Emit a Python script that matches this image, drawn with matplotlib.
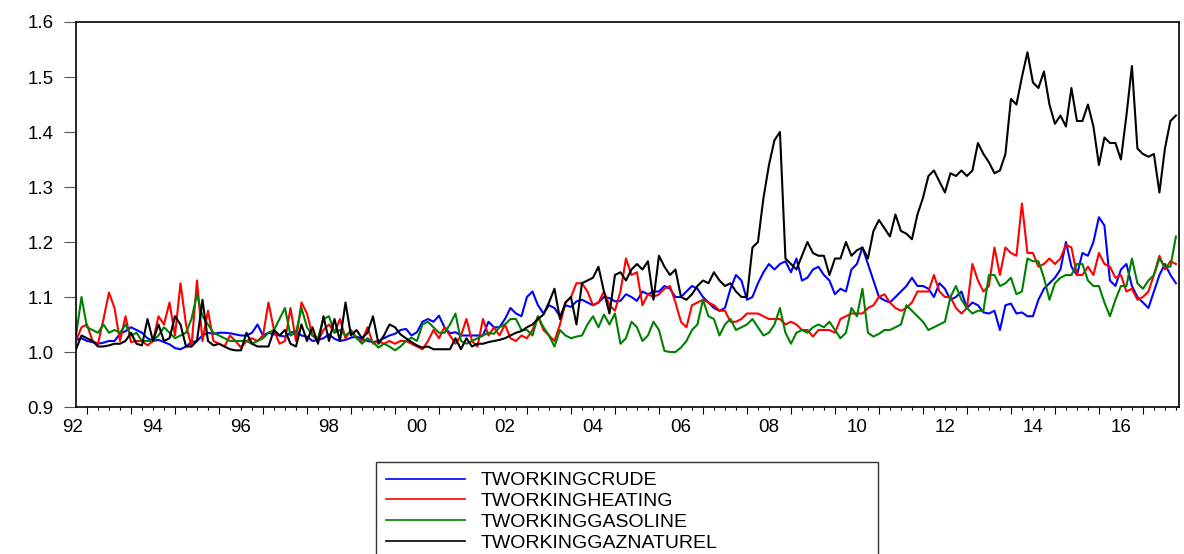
import numpy as np
import matplotlib.pyplot as plt

# ========== data (8 obs per year, from 1992.75) ==========
start = 1992.75
step = 0.125

crude = [
    1.022, 1.025,
    1.020, 1.018, 1.015, 1.017, 1.020, 1.020, 1.033, 1.038,  # 93
    1.045, 1.040, 1.035, 1.025, 1.020, 1.022, 1.018, 1.014,  # 94
    1.007, 1.005, 1.010, 1.018, 1.020, 1.030, 1.035, 1.033,  # 95
    1.035, 1.035, 1.034, 1.032, 1.030, 1.030, 1.035, 1.050,  # 96
    1.030, 1.035, 1.032, 1.030, 1.028, 1.035, 1.038, 1.030,  # 97
    1.028, 1.020, 1.022, 1.025, 1.032, 1.024, 1.020, 1.022,  # 98
    1.026, 1.028, 1.024, 1.020, 1.018, 1.020, 1.025, 1.030,  # 99
    1.033, 1.040, 1.042, 1.030, 1.036, 1.055, 1.060, 1.055,  # 00
    1.066, 1.045, 1.034, 1.036, 1.030, 1.030, 1.030, 1.030,  # 01
    1.030, 1.055, 1.045, 1.045, 1.060, 1.080, 1.070, 1.065,  # 02
    1.100, 1.110, 1.085, 1.070, 1.085, 1.080, 1.065, 1.085,  # 03
    1.082, 1.092, 1.095, 1.090, 1.085, 1.090, 1.100, 1.098,  # 04
    1.092, 1.093, 1.105, 1.100, 1.093, 1.110, 1.105, 1.110,  # 05
    1.110, 1.120, 1.115, 1.100, 1.100, 1.110, 1.120, 1.115,  # 06
    1.100, 1.090, 1.080, 1.075, 1.080, 1.115, 1.140, 1.130,  # 07
    1.095, 1.100, 1.125, 1.145, 1.160, 1.150, 1.160, 1.165,  # 08
    1.145, 1.170, 1.130, 1.135, 1.150, 1.155, 1.140, 1.130,  # 09
    1.105, 1.115, 1.110, 1.150, 1.160, 1.190, 1.160, 1.130,  # 10
    1.100, 1.094, 1.090, 1.100, 1.110, 1.120, 1.135, 1.120,  # 11
    1.120, 1.115, 1.100, 1.125, 1.115, 1.095, 1.100, 1.110,  # 12
    1.080, 1.090, 1.085, 1.072, 1.070, 1.075, 1.040, 1.085,  # 13
    1.088, 1.070, 1.072, 1.065, 1.065, 1.095, 1.115, 1.125,  # 14
    1.135, 1.150, 1.200, 1.155, 1.140, 1.180, 1.175, 1.200,  # 15
    1.245, 1.230, 1.130, 1.120, 1.150, 1.160, 1.120, 1.100,  # 16
    1.090, 1.080, 1.110, 1.140, 1.160, 1.140, 1.125,         # 17
]

heating = [
    1.020, 1.045,
    1.050, 1.020, 1.015, 1.060, 1.108, 1.080, 1.020, 1.065,
    1.018, 1.020, 1.020, 1.012, 1.020, 1.065, 1.050, 1.090,
    1.030, 1.125, 1.050, 1.010, 1.130, 1.020, 1.075, 1.020,
    1.015, 1.010, 1.030, 1.020, 1.008, 1.020, 1.025, 1.020,
    1.030, 1.090, 1.040, 1.015, 1.020, 1.080, 1.020, 1.090,
    1.070, 1.030, 1.020, 1.040, 1.050, 1.035, 1.060, 1.025,
    1.040, 1.025, 1.020, 1.045, 1.015, 1.020, 1.015, 1.020,
    1.015, 1.020, 1.020, 1.015, 1.010, 1.005, 1.020, 1.040,
    1.025, 1.045, 1.030, 1.015, 1.030, 1.060, 1.020, 1.010,
    1.060, 1.030, 1.045, 1.030, 1.050, 1.025, 1.020, 1.030,
    1.025, 1.040, 1.065, 1.040, 1.030, 1.020, 1.050, 1.090,
    1.100, 1.125, 1.125, 1.110, 1.085, 1.090, 1.110, 1.085,
    1.075, 1.110, 1.170, 1.140, 1.145, 1.085, 1.105, 1.100,
    1.105, 1.115, 1.120, 1.090, 1.055, 1.045, 1.085, 1.090,
    1.095, 1.090, 1.085, 1.075, 1.075, 1.055, 1.055, 1.060,
    1.070, 1.070, 1.070, 1.065, 1.060, 1.060, 1.060, 1.050,
    1.055, 1.050, 1.040, 1.040, 1.028, 1.040, 1.040, 1.040,
    1.035, 1.060, 1.065, 1.070, 1.070, 1.070, 1.080, 1.085,
    1.100, 1.105, 1.090, 1.080, 1.075, 1.080, 1.090, 1.110,
    1.110, 1.110, 1.140, 1.110, 1.100, 1.100, 1.080, 1.070,
    1.080, 1.160, 1.130, 1.110, 1.120, 1.190, 1.140, 1.190,
    1.180, 1.175, 1.270, 1.180, 1.180, 1.155, 1.160, 1.170,
    1.160, 1.170, 1.195, 1.190, 1.140, 1.140, 1.155, 1.140,
    1.180, 1.160, 1.155, 1.135, 1.140, 1.110, 1.115, 1.095,
    1.100, 1.110, 1.140, 1.175, 1.150, 1.165, 1.160,
]

gasoline = [
    1.030, 1.100,
    1.045, 1.040, 1.035, 1.050, 1.035, 1.040, 1.035, 1.050,
    1.030, 1.035, 1.020, 1.020, 1.020, 1.030, 1.045, 1.035,
    1.025, 1.030, 1.035, 1.060, 1.105, 1.065, 1.050, 1.035,
    1.030, 1.025, 1.020, 1.020, 1.020, 1.020, 1.015, 1.020,
    1.025, 1.035, 1.040, 1.060, 1.080, 1.030, 1.035, 1.080,
    1.045, 1.030, 1.025, 1.060, 1.065, 1.035, 1.040, 1.030,
    1.038, 1.026, 1.015, 1.025, 1.018, 1.008, 1.015, 1.010,
    1.003, 1.010, 1.020, 1.026, 1.020, 1.050, 1.055, 1.045,
    1.035, 1.035, 1.050, 1.070, 1.020, 1.015, 1.020, 1.025,
    1.030, 1.035, 1.033, 1.045, 1.050, 1.060, 1.060, 1.040,
    1.040, 1.030, 1.065, 1.045, 1.030, 1.010, 1.040, 1.030,
    1.025, 1.028, 1.030, 1.050, 1.065, 1.045, 1.068, 1.050,
    1.070, 1.015, 1.025, 1.055, 1.045, 1.020, 1.030, 1.055,
    1.040, 1.002, 1.000, 1.000, 1.008, 1.020, 1.040, 1.050,
    1.095, 1.065, 1.060, 1.030, 1.050, 1.060, 1.040, 1.045,
    1.050, 1.060, 1.045, 1.030, 1.035, 1.050, 1.080, 1.035,
    1.015, 1.035, 1.040, 1.035, 1.045, 1.050, 1.045, 1.055,
    1.040, 1.025, 1.035, 1.080, 1.065, 1.115, 1.035, 1.028,
    1.033, 1.040, 1.040, 1.045, 1.050, 1.085, 1.075, 1.065,
    1.055, 1.040, 1.045, 1.050, 1.055, 1.100, 1.120, 1.095,
    1.080, 1.070, 1.075, 1.075, 1.140, 1.140, 1.120, 1.125,
    1.135, 1.105, 1.110, 1.170, 1.165, 1.165, 1.135, 1.095,
    1.125, 1.135, 1.140, 1.140, 1.160, 1.160, 1.130, 1.120,
    1.120, 1.090, 1.065, 1.095, 1.120, 1.120, 1.170, 1.125,
    1.115, 1.130, 1.140, 1.170, 1.155, 1.155, 1.210,
]

gaznaturel = [
    1.005, 1.030,
    1.025, 1.020, 1.010, 1.010, 1.012, 1.015, 1.015, 1.020,
    1.035, 1.015, 1.012, 1.060, 1.020, 1.050, 1.020, 1.025,
    1.065, 1.050, 1.010, 1.010, 1.020, 1.095, 1.020, 1.012,
    1.015, 1.010, 1.005, 1.003, 1.003, 1.035, 1.015, 1.010,
    1.010, 1.010, 1.040, 1.030, 1.040, 1.015, 1.010, 1.050,
    1.020, 1.045, 1.015, 1.065, 1.020, 1.060, 1.020, 1.090,
    1.030, 1.040, 1.025, 1.035, 1.065, 1.015, 1.030, 1.050,
    1.045, 1.032, 1.025, 1.018, 1.012, 1.008, 1.010, 1.005,
    1.005, 1.005, 1.005, 1.025, 1.005, 1.025, 1.010, 1.015,
    1.015, 1.018, 1.020, 1.022, 1.025, 1.030, 1.035, 1.038,
    1.045, 1.050, 1.060, 1.068, 1.090, 1.115, 1.060, 1.090,
    1.100, 1.050, 1.125, 1.130, 1.135, 1.155, 1.110, 1.070,
    1.140, 1.145, 1.130, 1.150, 1.160, 1.150, 1.165, 1.095,
    1.175, 1.155, 1.140, 1.150, 1.100, 1.095, 1.105, 1.120,
    1.130, 1.125, 1.145, 1.130, 1.120, 1.125, 1.110, 1.100,
    1.100, 1.190, 1.200, 1.280, 1.340, 1.385, 1.400, 1.170,
    1.160, 1.150, 1.175, 1.200, 1.180, 1.175, 1.175, 1.140,
    1.170, 1.170, 1.200, 1.175, 1.185, 1.190, 1.170, 1.220,
    1.240, 1.225, 1.210, 1.250, 1.220, 1.215, 1.205, 1.250,
    1.280, 1.320, 1.330, 1.310, 1.290, 1.325, 1.320, 1.330,
    1.320, 1.330, 1.380, 1.360, 1.345, 1.325, 1.330, 1.360,
    1.460, 1.450, 1.500, 1.545, 1.490, 1.480, 1.510, 1.450,
    1.415, 1.430, 1.410, 1.480, 1.420, 1.420, 1.450, 1.410,
    1.340, 1.390, 1.380, 1.380, 1.350, 1.430, 1.520, 1.370,
    1.360, 1.355, 1.360, 1.290, 1.370, 1.420, 1.430,
]

series = {
    'TWORKINGCRUDE': (crude, '#0000ff'),
    'TWORKINGHEATING': (heating, '#ff0000'),
    'TWORKINGGASOLINE': (gasoline, '#008000'),
    'TWORKINGGAZNATUREL': (gaznaturel, '#000000'),
}
yticks = [0.9, 1.0, 1.1, 1.2, 1.3, 1.4, 1.5, 1.6]
year_labels = ['92', '94', '96', '98', '00', '02', '04', '06', '08', '10', '12', '14', '16']

plt.rcParams['font.family'] = ['Liberation Sans', 'DejaVu Sans']

W, H = 1184, 554
fig = plt.figure(figsize=(W / 100, H / 100), dpi=100)
ax = fig.add_axes([76 / W, 1 - 407 / H, (1179 - 76) / W, (407 - 22) / H])

t = start + step * np.arange(len(crude))
for name, (vals, col) in series.items():
    ax.plot(t, vals, color=col, lw=1.5, label=name)

ax.set_xlim(1992.75, 2017.82)
ax.set_ylim(0.9, 1.6)
ax.set_yticks(yticks)
ax.set_yticklabels(['%.1f' % v for v in yticks], fontsize=13.5)
ax.tick_params(axis='y', length=9, width=0.8, pad=7, color='#555555')

ax.set_xticks(np.arange(1993, 2018))
ax.set_xticklabels([])
ax.set_xticks(np.arange(1993, 2018, 0.25), minor=True)
ax.tick_params(axis='x', which='major', length=5, width=0.8)
ax.tick_params(axis='x', which='minor', length=2.5, width=0.8)
for i, lbl in enumerate(year_labels):
    x = 1992 + 2 * i + 0.5
    if i == 0:
        x = 1992.68
    ax.annotate(lbl, xy=(x, 0), xycoords=('data', 'axes fraction'),
                xytext=(0, -9), textcoords='offset points',
                ha='center', va='top', fontsize=13.5, annotation_clip=False)

for s in ax.spines.values():
    s.set_linewidth(1.2)

leg = fig.legend(loc='upper left', bbox_to_anchor=(376 / W, 1 - 462 / H, (878 - 376) / W, 0),
                 mode='expand', fontsize=14, frameon=True, fancybox=False,
                 edgecolor='black', borderaxespad=0, borderpad=0.5,
                 labelspacing=0.17, handlelength=4.1, handletextpad=0.8)
leg.get_frame().set_linewidth(1.0)
for line in leg.get_lines():
    line.set_linewidth(1.2)

plt.savefig('out.png', dpi=100)
